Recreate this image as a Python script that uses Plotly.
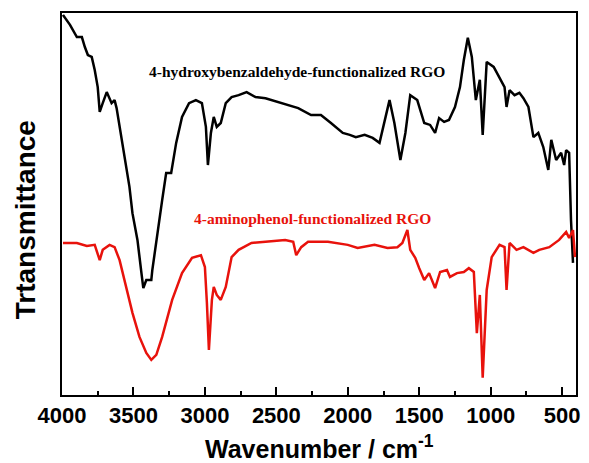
import plotly.graph_objects as go

# FTIR spectra: wavenumber (cm-1) and relative transmittance (a.u.)
hba_wavenumber = [3993, 3944, 3896, 3861, 3840, 3819, 3792, 3771, 3750, 3736, 3715, 3687,
                  3653, 3632, 3618, 3597, 3563, 3528, 3507, 3479, 3472, 3444, 3431, 3410,
                  3375, 3368, 3340, 3319, 3299, 3271, 3236, 3201, 3160, 3111, 3063, 3021,
                  2993, 2979, 2958, 2938, 2917, 2889, 2854, 2813, 2764, 2708, 2646, 2576,
                  2486, 2417, 2347, 2257, 2188, 2118, 2035, 1986, 1944, 1882, 1826, 1778,
                  1743, 1708, 1674, 1632, 1597, 1563, 1514, 1465, 1424, 1389, 1361, 1326,
                  1292, 1250, 1215, 1188, 1160, 1132, 1104, 1076, 1056, 1028, 979, 938,
                  903, 889, 868, 833, 799, 771, 736, 701, 667, 632, 597, 576, 542, 507,
                  486, 472, 451, 438, 424]
hba_transmittance = [99.5, 96.9, 93.7, 93.7, 91.1, 89.0, 88.5, 85.1, 80.6, 74.1, 76.4, 79.3,
                     76.4, 77.2, 75.1, 70.2, 62.3, 54.5, 47.6, 42.4, 40.6, 31.9, 28.0, 30.1,
                     30.1, 32.7, 40.6, 45.8, 51.0, 58.1, 58.1, 66.0, 72.8, 76.4, 77.2, 76.4,
                     70.2, 60.2, 68.6, 72.8, 70.2, 71.2, 76.4, 78.0, 78.5, 79.3, 78.0, 77.7,
                     76.7, 75.9, 75.1, 73.3, 73.3, 71.2, 68.6, 68.1, 67.5, 68.1, 67.3, 66.0,
                     71.2, 77.2, 71.2, 61.5, 68.6, 78.5, 77.2, 71.2, 70.7, 68.6, 72.5, 71.5,
                     72.0, 75.4, 80.6, 87.7, 93.5, 88.5, 77.2, 82.5, 68.1, 87.2, 85.9, 83.2,
                     80.6, 75.4, 79.8, 78.5, 79.1, 77.7, 75.4, 67.5, 68.6, 64.9, 58.9, 66.8,
                     61.5, 63.4, 60.2, 64.1, 63.4, 45.8, 34.6]

amp_wavenumber = [3993, 3896, 3826, 3771, 3736, 3715, 3667, 3632, 3597, 3549, 3507, 3458,
                  3410, 3375, 3340, 3299, 3229, 3160, 3090, 3028, 3000, 2986, 2972, 2951,
                  2938, 2917, 2889, 2854, 2813, 2764, 2674, 2576, 2438, 2382, 2361, 2326,
                  2278, 2139, 2000, 1931, 1813, 1722, 1653, 1618, 1583, 1563, 1528, 1500,
                  1465, 1431, 1389, 1354, 1306, 1285, 1236, 1188, 1153, 1118, 1097, 1076,
                  1056, 1028, 993, 938, 903, 889, 868, 819, 771, 701, 660, 590, 521, 472,
                  451, 424, 410]
amp_transmittance = [39.8, 39.8, 39.0, 39.3, 35.3, 38.0, 39.3, 38.7, 35.3, 28.3, 21.5, 15.2,
                     11.0, 9.2, 10.5, 15.2, 24.9, 31.9, 35.9, 36.6, 33.5, 24.1, 11.8, 24.9,
                     28.3, 26.2, 24.9, 28.3, 36.1, 38.0, 39.8, 40.1, 40.6, 40.1, 36.6, 38.7,
                     40.1, 40.1, 39.3, 38.5, 39.3, 38.5, 38.7, 39.8, 43.2, 38.0, 35.9, 33.2,
                     30.1, 31.9, 28.0, 32.2, 32.7, 30.9, 31.9, 32.2, 33.2, 32.2, 16.2, 26.2,
                     4.5, 27.5, 36.1, 39.3, 38.7, 27.5, 39.8, 38.0, 38.7, 37.2, 38.0, 38.7,
                     40.6, 42.7, 41.1, 43.2, 36.1]

x_ticks = [4000, 3500, 3000, 2500, 2000, 1500, 1000, 500]

hba_label = "4-hydroxybenzaldehyde-functionalized RGO"
amp_label = "4-aminophenol-functionalized RGO"

fig = go.Figure()
fig.add_trace(go.Scatter(x=hba_wavenumber, y=hba_transmittance, mode="lines",
                         line=dict(color="black", width=2.5), name=hba_label))
fig.add_trace(go.Scatter(x=amp_wavenumber, y=amp_transmittance, mode="lines",
                         line=dict(color="#e8120c", width=2.5), name=amp_label))

serif = dict(family="Liberation Serif", size=15.5, weight="bold")
fig.add_annotation(x=2354, y=84.8, xref="x", yref="y", text=hba_label,
                   showarrow=False, font=dict(color="black", **serif))
fig.add_annotation(x=2250, y=46.3, xref="x", yref="y", text=amp_label,
                   showarrow=False, font=dict(color="#e8120c", **serif))

sans = "Liberation Sans"
fig.add_annotation(x=0.5, y=-0.135, xref="paper", yref="paper",
                   text="Wavenumber / cm<sup>-1</sup>", showarrow=False,
                   xanchor="center", yanchor="middle",
                   font=dict(family=sans, size=25, weight="bold", color="black"))
fig.add_annotation(x=-0.072, y=0.46, xref="paper", yref="paper",
                   text="Trtansmittance", showarrow=False, textangle=-90,
                   xanchor="center", yanchor="middle",
                   font=dict(family=sans, size=28, weight="bold", color="black"))

fig.update_layout(
    width=589, height=463,
    margin=dict(l=62, r=9, t=13, b=68),
    paper_bgcolor="white", plot_bgcolor="white",
    showlegend=False,
    xaxis=dict(range=[4000, 403], tickvals=x_ticks, ticks="inside", ticklen=8,
               tickwidth=2, tickcolor="black", showline=True, linewidth=2,
               linecolor="black", mirror=True, showgrid=False, zeroline=False,
               tickfont=dict(family=sans, size=22, weight="bold", color="black"),
               minor=dict(dtick=250, tick0=0, ticks="inside", ticklen=4,
                          tickwidth=2, tickcolor="black", showgrid=False)),
    yaxis=dict(range=[0, 100], showticklabels=False, ticks="", showline=True,
               linewidth=2, linecolor="black", mirror=True, showgrid=False,
               zeroline=False),
)

fig.write_html("out.html")
